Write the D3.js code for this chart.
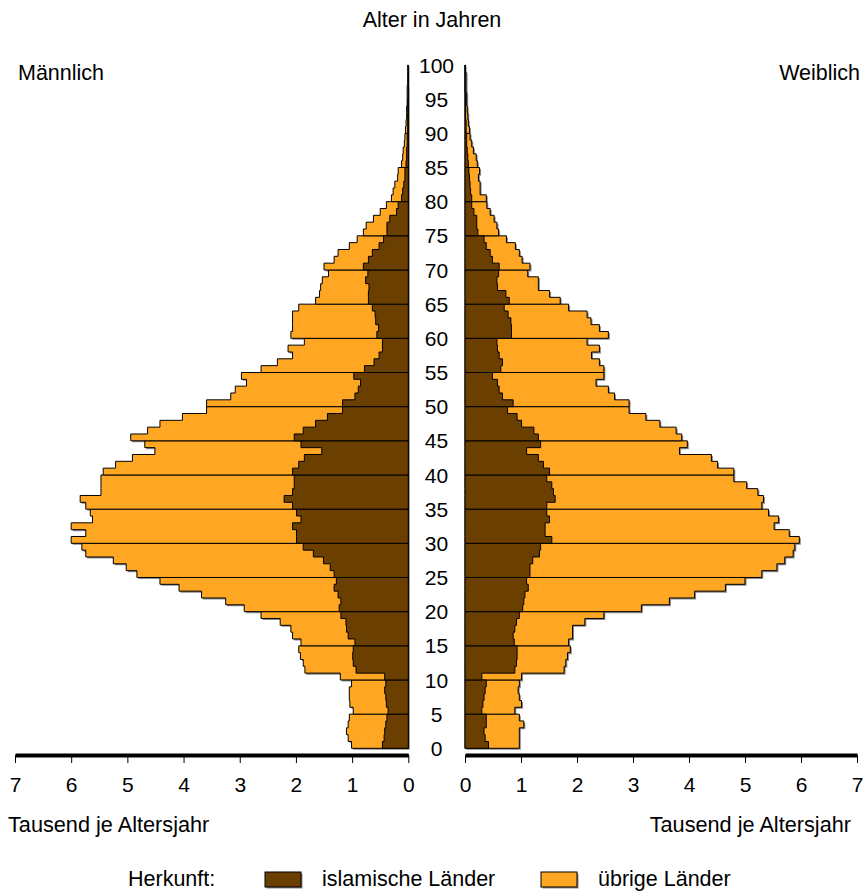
<!DOCTYPE html>
<html>
<head>
<meta charset="utf-8">
<script src="https://cdn.jsdelivr.net/npm/d3@7"></script>
<style>
  body { margin: 0; background: #fff; }
  svg text { font-family: "Liberation Sans", Arial, sans-serif; fill: #000; }
</style>
</head>
<body>
<div id="chart"></div>
<script>
// Tausend je Altersjahr, Alter 0..99
const ages = d3.range(0, 100);
const ageTicks = d3.range(0, 101, 5);
const valueTicks = d3.range(0, 8);

// Männlich: islamische Länder / alle Herkunftsländer (islamisch + übrige)
const maleIslam = [
  0.46, 0.43, 0.42, 0.40, 0.38,  0.36, 0.39, 0.40, 0.42, 0.40,
  0.42, 0.93, 0.98, 0.99, 0.98,  0.95, 1.07, 1.10, 1.11, 1.20,
  1.23, 1.20, 1.25, 1.32, 1.28,  1.32, 1.39, 1.51, 1.69, 1.87,
  1.99, 1.99, 2.06, 1.91, 1.99,  2.06, 2.21, 2.06, 2.03, 2.03,
  2.06, 1.95, 1.85, 1.54, 1.91,  2.03, 1.87, 1.65, 1.44, 1.17,
  1.17, 0.95, 0.89, 0.85, 0.97,  0.78, 0.61, 0.52, 0.46, 0.46,
  0.56, 0.53, 0.58, 0.59, 0.64,  0.71, 0.71, 0.70, 0.76, 0.72,
  0.80, 0.71, 0.64, 0.52, 0.44,  0.38, 0.38, 0.33, 0.21, 0.18,
  0.12, 0.10, 0.08, 0.06, 0.06,  0.04, 0.03, 0.03, 0.02, 0.02,
  0.01, 0.01, 0.01, 0.01, 0.01,  0, 0, 0, 0, 0
];
const maleAll = [
  1.01, 1.07, 1.10, 1.07, 1.05,  0.98, 1.04, 1.05, 1.05, 1.01,
  1.21, 1.84, 1.87, 1.92, 1.95,  1.91, 2.06, 2.09, 2.28, 2.62,
  2.92, 3.25, 3.68, 4.08, 4.42,  4.83, 5.02, 5.25, 5.74, 5.81,
  6.00, 5.74, 6.00, 5.62, 5.66,  5.74, 5.84, 5.47, 5.47, 5.47,
  5.43, 5.21, 4.91, 4.51, 4.69,  4.94, 4.64, 4.42, 4.02, 3.59,
  3.59, 3.16, 3.08, 2.88, 2.97,  2.62, 2.33, 2.06, 2.14, 1.85,
  2.09, 2.06, 2.06, 2.06, 1.95,  1.65, 1.58, 1.56, 1.53, 1.42,
  1.50, 1.32, 1.25, 1.05, 0.91,  0.80, 0.75, 0.62, 0.50, 0.39,
  0.30, 0.27, 0.24, 0.19, 0.18,  0.12, 0.10, 0.09, 0.07, 0.06,
  0.05, 0.04, 0.03, 0.03, 0.02,  0.02, 0.02, 0.01, 0.01, 0.01
];

// Weiblich
const femaleIslam = [
  0.42, 0.36, 0.34, 0.38, 0.38,  0.30, 0.32, 0.34, 0.36, 0.38,
  0.30, 0.89, 0.92, 0.93, 0.93,  0.88, 0.86, 0.89, 0.92, 0.97,
  1.03, 1.05, 1.07, 1.13, 1.10,  1.16, 1.16, 1.21, 1.33, 1.35,
  1.55, 1.43, 1.43, 1.51, 1.46,  1.46, 1.61, 1.58, 1.55, 1.46,
  1.51, 1.40, 1.31, 1.10, 1.35,  1.31, 1.23, 1.01, 0.93, 0.76,
  0.86, 0.67, 0.61, 0.58, 0.49,  0.64, 0.67, 0.61, 0.58, 0.57,
  0.83, 0.83, 0.82, 0.77, 0.70,  0.79, 0.73, 0.58, 0.57, 0.60,
  0.61, 0.49, 0.45, 0.38, 0.34,  0.23, 0.21, 0.21, 0.16, 0.12,
  0.12, 0.10, 0.09, 0.08, 0.07,  0.06, 0.05, 0.04, 0.03, 0.03,
  0.02, 0.02, 0.01, 0.01, 0.01,  0.01, 0, 0, 0, 0
];
const femaleAll = [
  0.97, 0.97, 0.97, 1.05, 0.97,  0.89, 1.01, 0.97, 0.95, 0.97,
  1.01, 1.77, 1.80, 1.83, 1.88,  1.85, 1.92, 1.92, 2.14, 2.48,
  3.15, 3.65, 4.10, 4.65, 5.00,  5.30, 5.57, 5.71, 5.86, 5.89,
  5.97, 5.79, 5.52, 5.60, 5.42,  5.30, 5.33, 5.23, 5.03, 4.80,
  4.80, 4.51, 4.40, 3.83, 3.97,  3.87, 3.77, 3.48, 3.23, 2.93,
  2.93, 2.67, 2.56, 2.34, 2.48,  2.48, 2.40, 2.26, 2.40, 2.18,
  2.56, 2.40, 2.25, 2.18, 1.85,  1.70, 1.51, 1.31, 1.31, 1.12,
  1.16, 1.02, 0.97, 0.90, 0.74,  0.60, 0.57, 0.52, 0.45, 0.39,
  0.38, 0.27, 0.27, 0.24, 0.26,  0.22, 0.20, 0.15, 0.12, 0.09,
  0.08, 0.06, 0.05, 0.04, 0.03,  0.03, 0.02, 0.02, 0.02, 0.01
];

const seriesNames = ["islamische Länder", "übrige Länder"];
const colors = ["#6b3f00", "#ffa623"];

const width = 866, height = 891;

const svg = d3.select("#chart")
  .append("svg")
  .attr("width", width)
  .attr("height", height);

const y = d3.scaleLinear().domain([0, 100]).range([748.3, 65]);
const xL = d3.scaleLinear().domain([0, 7]).range([408.3, 15]);
const xR = d3.scaleLinear().domain([0, 7]).range([465, 857]);

// one 5-year block -> step outline
function block(vals, g) {
  const pts = d3.range(5 * g, 5 * g + 5).map(a => ({ age: a, v: vals[a] }));
  pts.push({ age: 5 * g + 5, v: vals[5 * g + 4] });
  return pts;
}

function drawSide(x, islam, all) {
  const area = d3.area()
    .curve(d3.curveStepBefore)
    .y(d => y(d.age))
    .x0(x(0))
    .x1(d => x(d.v));
  const groups = d3.range(0, 20);
  const g = svg.append("g");

  // grey drop shadow
  g.append("g")
    .attr("transform", "translate(1.5,1.5)")
    .selectAll("path")
    .data(groups)
    .join("path")
    .attr("d", k => area(block(all, k)))
    .attr("fill", "#8a8a8a");

  g.append("g")
    .selectAll("path")
    .data(groups)
    .join("path")
    .attr("d", k => area(block(all, k)))
    .attr("fill", colors[1])
    .attr("stroke", "#000")
    .attr("stroke-width", 1);

  g.append("g")
    .selectAll("path")
    .data(groups)
    .join("path")
    .attr("d", k => area(block(islam, k)))
    .attr("fill", colors[0])
    .attr("stroke", "#000")
    .attr("stroke-width", 1);

  const axis = svg.append("g")
    .attr("transform", "translate(0,755)")
    .call(d3.axisBottom(x).tickValues(valueTicks).tickSize(8).tickSizeOuter(0).tickPadding(14).tickFormat(d3.format("d")));
  axis.select(".domain").attr("stroke-width", 4);
  axis.selectAll(".tick line").attr("stroke-width", 1);
  axis.selectAll("text").style("font-size", "21px");
}

drawSide(xL, maleIslam, maleAll);
drawSide(xR, femaleIslam, femaleAll);

// age labels
svg.append("g")
  .selectAll("text")
  .data(ageTicks)
  .join("text")
  .attr("x", 436.5)
  .attr("y", d => y(d))
  .attr("dy", "0.36em")
  .attr("text-anchor", "middle")
  .style("font-size", "21px")
  .text(d => d);

svg.append("text").attr("x", 432).attr("y", 27).attr("text-anchor", "middle")
  .style("font-size", "21.5px").text("Alter in Jahren");
svg.append("text").attr("x", 18).attr("y", 80).style("font-size", "21.5px").text("Männlich");
svg.append("text").attr("x", 860).attr("y", 80).attr("text-anchor", "end")
  .style("font-size", "21.5px").text("Weiblich");
svg.append("text").attr("x", 8).attr("y", 832).style("font-size", "21.7px").text("Tausend je Altersjahr");
svg.append("text").attr("x", 851).attr("y", 832).attr("text-anchor", "end")
  .style("font-size", "21.7px").text("Tausend je Altersjahr");

// legend
const legend = svg.append("g");
legend.append("text").attr("x", 128).attr("y", 886).style("font-size", "21.5px").text("Herkunft:");
const items = legend.selectAll("g.item")
  .data(seriesNames)
  .join("g")
  .attr("class", "item")
  .attr("transform", (d, i) => `translate(${265 + i * 276},872)`);
items.append("rect").attr("x", 1.5).attr("y", 1.5).attr("width", 36).attr("height", 15).attr("fill", "#8a8a8a");
items.append("rect").attr("width", 36).attr("height", 15)
  .attr("fill", (d, i) => colors[i]).attr("stroke", "#000");
items.append("text").attr("x", 57).attr("y", 14).style("font-size", "21.5px").text(d => d);
</script>
</body>
</html>
